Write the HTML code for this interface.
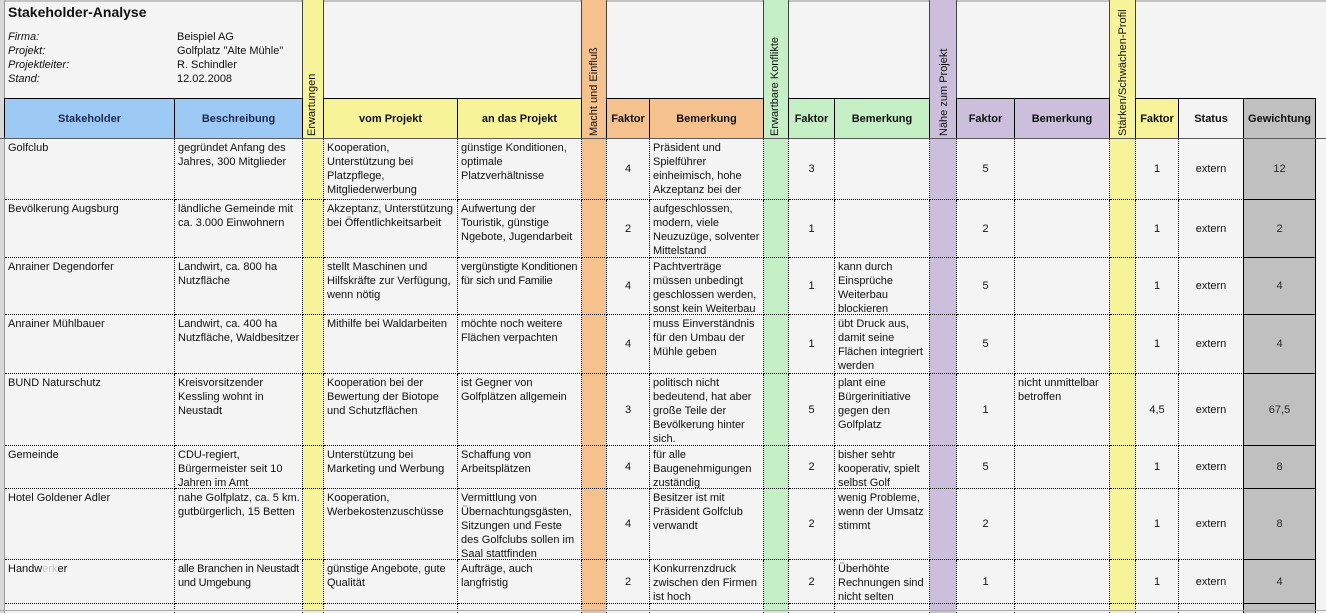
<!DOCTYPE html>
<html><head><meta charset="utf-8">
<style>
*{margin:0;padding:0}
html,body{width:1326px;height:613px;overflow:hidden;background:#f4f4f4}
#w{position:relative;width:1326px;height:613px;overflow:hidden;background:#f4f4f4;font-family:"Liberation Sans",Arial,sans-serif;font-size:11px;color:#111}
.abs{position:absolute}
.s{position:absolute}
.hs{position:absolute;top:0;height:139px;box-sizing:border-box;border-left:1px solid #444;border-right:1px solid #444}
.rot{position:absolute;top:136px;white-space:nowrap;line-height:14px;transform-origin:0 0;transform:rotate(-90deg);font-size:11px;color:#111}
.h{position:absolute;top:98px;height:41px;box-sizing:border-box;border:1px solid #000;border-bottom:none;font-weight:bold;display:flex;align-items:center;justify-content:center;white-space:nowrap}
.r{position:absolute;left:0;width:1326px}
.c{position:absolute;top:0;height:100%;box-sizing:border-box;border-right:1px dotted #000;border-bottom:1px dotted #000;overflow:hidden;line-height:14px;padding:2px 0 0 3px;white-space:nowrap}
.n{display:flex;align-items:center;justify-content:center;padding:0}
.g{background:#c0c0c0;border:1px solid #000;border-top:none;color:#2a2a2a}
.t{letter-spacing:-0.2px}
.c0{left:5px;width:170px}
.c1{left:175px;width:128px}
.c2{left:303px;width:21px}
.c3{left:324px;width:134px}
.c4{left:458px;width:124px}
.c5{left:582px;width:25px}
.c6{left:607px;width:43px}
.c7{left:650px;width:114px}
.c8{left:764px;width:25px}
.c9{left:789px;width:46px}
.c10{left:835px;width:95px}
.c11{left:930px;width:27px}
.c12{left:957px;width:58px}
.c13{left:1015px;width:95px}
.c14{left:1110px;width:26px}
.c15{left:1136px;width:43px}
.c16{left:1179px;width:65px}
.c17{left:1243px;width:73px}
</style></head><body><div id="w">

<div class="abs" style="left:0;top:0;width:1326px;height:2px;background:#c4c4c4"></div>
<div class="abs" style="left:0;top:0;width:4px;height:613px;background:#d8d8d8"></div>
<div class="abs" style="left:4px;top:0;width:1px;height:613px;background:#9a9a9a"></div>

<div class="s" style="left:303px;top:0;width:20px;height:613px;background:#f6f399"></div>
<div class="s" style="left:582px;top:0;width:24px;height:613px;background:#f5c18c"></div>
<div class="s" style="left:764px;top:0;width:24px;height:613px;background:#c5efc5"></div>
<div class="s" style="left:930px;top:0;width:26px;height:613px;background:#cbbfdc"></div>
<div class="s" style="left:1110px;top:0;width:25px;height:613px;background:#f6f399"></div>

<div class="hs" style="left:302px;width:22px"></div>
<div class="hs" style="left:581px;width:26px"></div>
<div class="hs" style="left:763px;width:26px"></div>
<div class="hs" style="left:929px;width:28px"></div>
<div class="hs" style="left:1109px;width:27px"></div>

<div class="rot" style="left:305px">Erwartungen</div>
<div class="rot" style="left:587px">Macht und Einfluß</div>
<div class="rot" style="left:768px">Erwartbare Konflikte</div>
<div class="rot" style="left:937px">Nähe zum Projekt</div>
<div class="rot" style="left:1116px">Stärken/Schwächen-Profil</div>

<div class="abs" style="left:8px;top:4px;font-size:14px;font-weight:bold;line-height:16px;white-space:nowrap">Stakeholder-Analyse</div>
<div class="abs" style="left:8px;top:29.5px;line-height:14.3px;font-style:italic;white-space:nowrap">Firma:<br>Projekt:<br>Projektleiter:<br>Stand:</div>
<div class="abs" style="left:177px;top:29.5px;line-height:14.3px;white-space:nowrap">Beispiel AG<br>Golfplatz "Alte Mühle"<br>R. Schindler<br>12.02.2008</div>

<div class="h" style="left:4px;width:171px;background:#9ccaf4;color:#1c2a52">Stakeholder</div>
<div class="h" style="left:174px;width:129px;background:#9ccaf4;color:#1c2a52">Beschreibung</div>
<div class="h" style="left:323px;width:135px;background:#f6f399">vom Projekt</div>
<div class="h" style="left:457px;width:125px;background:#f6f399">an das Projekt</div>
<div class="h" style="left:606px;width:44px;background:#f5c18c">Faktor</div>
<div class="h" style="left:649px;width:115px;background:#f5c18c">Bemerkung</div>
<div class="h" style="left:788px;width:47px;background:#c5efc5">Faktor</div>
<div class="h" style="left:834px;width:96px;background:#c5efc5">Bemerkung</div>
<div class="h" style="left:956px;width:59px;background:#cbbfdc">Faktor</div>
<div class="h" style="left:1014px;width:96px;background:#cbbfdc">Bemerkung</div>
<div class="h" style="left:1135px;width:44px;background:#f6f399">Faktor</div>
<div class="h" style="left:1178px;width:66px">Status</div>
<div class="h" style="left:1243px;width:73px;background:#c0c0c0">Gewichtung</div>
<div class="abs" style="left:0;top:138px;width:1326px;height:1px;background:#5a5a5a"></div>

<div class="r" style="top:139px;height:61px">
<div class="c c0">Golfclub</div>
<div class="c c1">gegründet Anfang des<br>Jahres, 300 Mitglieder</div>
<div class="c c2"></div>
<div class="c c3">Kooperation,<br>Unterstützung bei<br>Platzpflege,<br>Mitgliederwerbung</div>
<div class="c c4">günstige Konditionen,<br>optimale<br>Platzverhältnisse</div>
<div class="c c5"></div>
<div class="c c6 n">4</div>
<div class="c c7">Präsident und<br>Spielführer<br>einheimisch, hohe<br>Akzeptanz bei der<br>Bevölkerung</div>
<div class="c c8"></div>
<div class="c c9 n">3</div>
<div class="c c10"></div>
<div class="c c11"></div>
<div class="c c12 n">5</div>
<div class="c c13"></div>
<div class="c c14"></div>
<div class="c c15 n">1</div>
<div class="c c16 n">extern</div>
<div class="c c17 n g">12</div>
</div>

<div class="r" style="top:200px;height:58px">
<div class="c c0">Bevölkerung Augsburg</div>
<div class="c c1">ländliche Gemeinde mit<br>ca. 3.000 Einwohnern</div>
<div class="c c2"></div>
<div class="c c3">Akzeptanz, Unterstützung<br>bei Öffentlichkeitsarbeit</div>
<div class="c c4">Aufwertung der<br>Touristik, günstige<br>Ngebote, Jugendarbeit</div>
<div class="c c5"></div>
<div class="c c6 n">2</div>
<div class="c c7">aufgeschlossen,<br>modern, viele<br>Neuzuzüge, solventer<br>Mittelstand</div>
<div class="c c8"></div>
<div class="c c9 n">1</div>
<div class="c c10"></div>
<div class="c c11"></div>
<div class="c c12 n">2</div>
<div class="c c13"></div>
<div class="c c14"></div>
<div class="c c15 n">1</div>
<div class="c c16 n">extern</div>
<div class="c c17 n g">2</div>
</div>

<div class="r" style="top:258px;height:57px">
<div class="c c0">Anrainer Degendorfer</div>
<div class="c c1">Landwirt, ca. 800 ha<br>Nutzfläche</div>
<div class="c c2"></div>
<div class="c c3">stellt Maschinen und<br>Hilfskräfte zur Verfügung,<br>wenn nötig</div>
<div class="c c4 t">vergünstigte Konditionen<br>für sich und Familie</div>
<div class="c c5"></div>
<div class="c c6 n">4</div>
<div class="c c7">Pachtverträge<br>müssen unbedingt<br>geschlossen werden,<br>sonst kein Weiterbau</div>
<div class="c c8"></div>
<div class="c c9 n">1</div>
<div class="c c10">kann durch<br>Einsprüche<br>Weiterbau<br>blockieren</div>
<div class="c c11"></div>
<div class="c c12 n">5</div>
<div class="c c13"></div>
<div class="c c14"></div>
<div class="c c15 n">1</div>
<div class="c c16 n">extern</div>
<div class="c c17 n g">4</div>
</div>

<div class="r" style="top:315px;height:59px">
<div class="c c0">Anrainer Mühlbauer</div>
<div class="c c1">Landwirt, ca. 400 ha<br>Nutzfläche, Waldbesitzer</div>
<div class="c c2"></div>
<div class="c c3">Mithilfe bei Waldarbeiten</div>
<div class="c c4">möchte noch weitere<br>Flächen verpachten</div>
<div class="c c5"></div>
<div class="c c6 n">4</div>
<div class="c c7">muss Einverständnis<br>für den Umbau der<br>Mühle geben</div>
<div class="c c8"></div>
<div class="c c9 n">1</div>
<div class="c c10">übt Druck aus,<br>damit seine<br>Flächen integriert<br>werden</div>
<div class="c c11"></div>
<div class="c c12 n">5</div>
<div class="c c13"></div>
<div class="c c14"></div>
<div class="c c15 n">1</div>
<div class="c c16 n">extern</div>
<div class="c c17 n g">4</div>
</div>

<div class="r" style="top:374px;height:72px">
<div class="c c0">BUND Naturschutz</div>
<div class="c c1">Kreisvorsitzender<br>Kessling wohnt in<br>Neustadt</div>
<div class="c c2"></div>
<div class="c c3">Kooperation bei der<br>Bewertung der Biotope<br>und Schutzflächen</div>
<div class="c c4">ist Gegner von<br>Golfplätzen allgemein</div>
<div class="c c5"></div>
<div class="c c6 n">3</div>
<div class="c c7">politisch nicht<br>bedeutend, hat aber<br>große Teile der<br>Bevölkerung hinter<br>sich.</div>
<div class="c c8"></div>
<div class="c c9 n">5</div>
<div class="c c10">plant eine<br>Bürgerinitiative<br>gegen den<br>Golfplatz</div>
<div class="c c11"></div>
<div class="c c12 n">1</div>
<div class="c c13">nicht unmittelbar<br>betroffen</div>
<div class="c c14"></div>
<div class="c c15 n">4,5</div>
<div class="c c16 n">extern</div>
<div class="c c17 n g">67,5</div>
</div>

<div class="r" style="top:446px;height:43px">
<div class="c c0">Gemeinde</div>
<div class="c c1">CDU-regiert,<br>Bürgermeister seit 10<br>Jahren im Amt</div>
<div class="c c2"></div>
<div class="c c3">Unterstützung bei<br>Marketing und Werbung</div>
<div class="c c4">Schaffung von<br>Arbeitsplätzen</div>
<div class="c c5"></div>
<div class="c c6 n">4</div>
<div class="c c7">für alle<br>Baugenehmigungen<br>zuständig</div>
<div class="c c8"></div>
<div class="c c9 n">2</div>
<div class="c c10">bisher sehtr<br>kooperativ, spielt<br>selbst Golf</div>
<div class="c c11"></div>
<div class="c c12 n">5</div>
<div class="c c13"></div>
<div class="c c14"></div>
<div class="c c15 n">1</div>
<div class="c c16 n">extern</div>
<div class="c c17 n g">8</div>
</div>

<div class="r" style="top:489px;height:71px">
<div class="c c0">Hotel Goldener Adler</div>
<div class="c c1">nahe Golfplatz, ca. 5 km.<br>gutbürgerlich, 15 Betten</div>
<div class="c c2"></div>
<div class="c c3">Kooperation,<br>Werbekostenzuschüsse</div>
<div class="c c4">Vermittlung von<br>Übernachtungsgästen,<br>Sitzungen und Feste<br>des Golfclubs sollen im<br>Saal stattfinden</div>
<div class="c c5"></div>
<div class="c c6 n">4</div>
<div class="c c7">Besitzer ist mit<br>Präsident Golfclub<br>verwandt</div>
<div class="c c8"></div>
<div class="c c9 n">2</div>
<div class="c c10">wenig Probleme,<br>wenn der Umsatz<br>stimmt</div>
<div class="c c11"></div>
<div class="c c12 n">2</div>
<div class="c c13"></div>
<div class="c c14"></div>
<div class="c c15 n">1</div>
<div class="c c16 n">extern</div>
<div class="c c17 n g">8</div>
</div>

<div class="r" style="top:560px;height:44px">
<div class="c c0">Handw<span style="color:#c8c8c8">erk</span>er</div>
<div class="c c1 t">alle Branchen in Neustadt<br>und Umgebung</div>
<div class="c c2"></div>
<div class="c c3">günstige Angebote, gute<br>Qualität</div>
<div class="c c4">Aufträge, auch<br>langfristig</div>
<div class="c c5"></div>
<div class="c c6 n">2</div>
<div class="c c7">Konkurrenzdruck<br>zwischen den Firmen<br>ist hoch</div>
<div class="c c8"></div>
<div class="c c9 n">2</div>
<div class="c c10">Überhöhte<br>Rechnungen sind<br>nicht selten</div>
<div class="c c11"></div>
<div class="c c12 n">1</div>
<div class="c c13"></div>
<div class="c c14"></div>
<div class="c c15 n">1</div>
<div class="c c16 n">extern</div>
<div class="c c17 n g">4</div>
</div>

<div class="r" style="top:604px;height:9px">
<div class="c c0" style="border-bottom:none"></div><div class="c c1" style="border-bottom:none"></div><div class="c c2" style="border-bottom:none"></div><div class="c c3" style="border-bottom:none"></div>
<div class="c c4" style="border-bottom:none"></div><div class="c c5" style="border-bottom:none"></div><div class="c c6" style="border-bottom:none"></div><div class="c c7" style="border-bottom:none"></div>
<div class="c c8" style="border-bottom:none"></div><div class="c c9" style="border-bottom:none"></div><div class="c c10" style="border-bottom:none"></div><div class="c c11" style="border-bottom:none"></div>
<div class="c c12" style="border-bottom:none"></div><div class="c c13" style="border-bottom:none"></div><div class="c c14" style="border-bottom:none"></div><div class="c c15" style="border-bottom:none"></div>
<div class="c c16" style="border-bottom:none"></div><div class="c c17 g" style="border-bottom:none"></div>
</div>
<div class="abs" style="left:0;top:610px;width:1326px;height:1px;background:#a8a8a8"></div>

</div></body></html>
